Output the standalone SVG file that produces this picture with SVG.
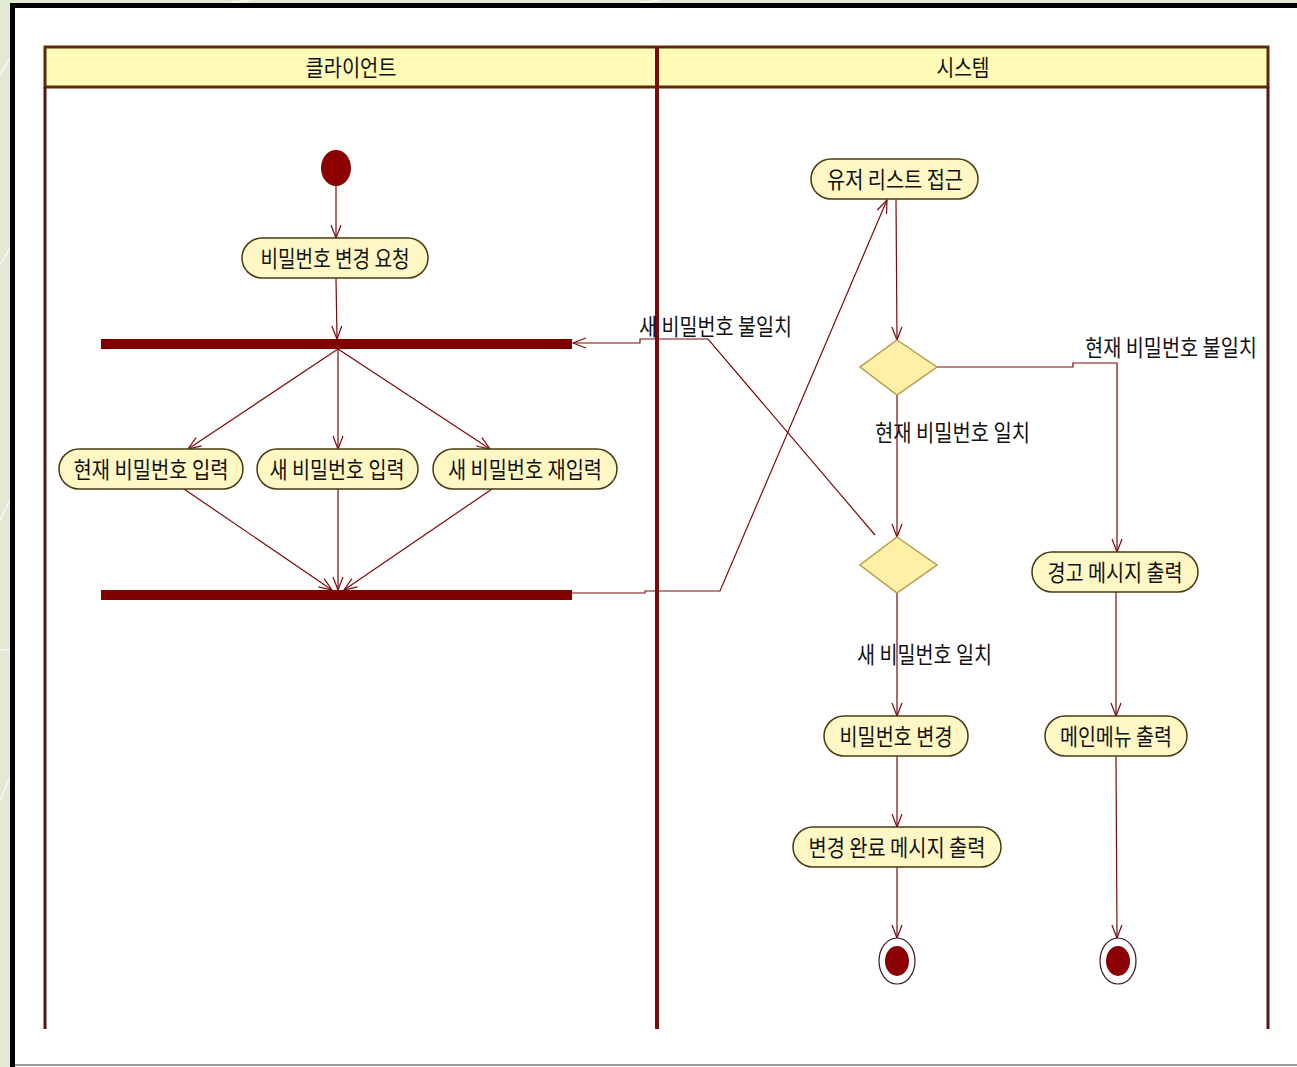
<svg xmlns="http://www.w3.org/2000/svg" width="1297" height="1067" viewBox="0 0 1297 1067">
<style>
  text { font-family: "Noto Sans CJK KR", "Noto Sans", sans-serif; font-size: 23px; fill: #111; }
  .act { fill: #fff8c4; stroke: #4a3a10; stroke-width: 1.5; }
  .dec { fill: #fff0a6; stroke: #b89a50; stroke-width: 1.5; }
  .bar { fill: #800000; }
  .edge { fill: none; stroke: #7a0a0a; stroke-width: 1.2; }
  .lane { fill: none; stroke: #5a1414; stroke-width: 3; }
</style>
<defs>
  <marker id="arr" markerUnits="userSpaceOnUse" markerWidth="16" markerHeight="14" viewBox="-14 -7 16 14" refX="0" refY="0" orient="auto">
    <path d="M-13,-5 L0,0 L-13,5" fill="none" stroke="#7a0a0a" stroke-width="1.2"/>
  </marker>
</defs>
<!-- background -->
<rect x="0" y="0" width="1297" height="1067" fill="#e2eAd3"/>
<g stroke="#ffffff" stroke-width="1.5" opacity="0.8">
  <line x1="0" y1="75" x2="10" y2="58"/>
  <line x1="0" y1="265" x2="10" y2="248"/>
  <line x1="0" y1="520" x2="10" y2="500"/>
  <line x1="0" y1="650" x2="10" y2="650"/>
  <line x1="0" y1="800" x2="10" y2="778"/>
  <line x1="230" y1="3" x2="250" y2="0"/>
  <line x1="640" y1="3" x2="660" y2="0"/>
</g>
<rect x="10" y="3" width="1287" height="1064" fill="#000"/>
<rect x="15" y="8" width="1282" height="1059" fill="#ffffff"/>
<line x1="15" y1="1065" x2="1297" y2="1065" stroke="#999" stroke-width="2"/>

<!-- swimlanes -->
<g id="lanes">
  <rect x="45" y="47" width="1223" height="40" fill="#fffcb8" stroke="#5a2a0a" stroke-width="3"/>
  <line class="lane" x1="45" y1="87" x2="45" y2="1029"/>
  <line class="lane" x1="1268" y1="87" x2="1268" y2="1029"/>
  <line x1="657" y1="47" x2="657" y2="1029" stroke="#7a0a0a" stroke-width="4"/>
  <text x="351" y="76" text-anchor="middle" textLength="91" lengthAdjust="spacingAndGlyphs">클라이언트</text>
  <text x="963" y="76" text-anchor="middle" textLength="53" lengthAdjust="spacingAndGlyphs">시스템</text>
</g>

<!-- connectors -->
<g id="connectors">
  <line class="edge" x1="336" y1="186" x2="336" y2="238" marker-end="url(#arr)"/>
  <line class="edge" x1="336" y1="278" x2="337" y2="339" marker-end="url(#arr)"/>
  <line class="edge" x1="338" y1="349" x2="188" y2="449" marker-end="url(#arr)"/>
  <line class="edge" x1="338" y1="349" x2="338" y2="449" marker-end="url(#arr)"/>
  <line class="edge" x1="338" y1="349" x2="490" y2="449" marker-end="url(#arr)"/>
  <line class="edge" x1="184" y1="489" x2="332" y2="590" marker-end="url(#arr)"/>
  <line class="edge" x1="338" y1="489" x2="338" y2="590" marker-end="url(#arr)"/>
  <line class="edge" x1="492" y1="489" x2="344" y2="590" marker-end="url(#arr)"/>
  <polyline class="edge" points="572,593 645,593 645,591 720,591 887,200" marker-end="url(#arr)"/>
  <line class="edge" x1="896" y1="199" x2="897" y2="340" marker-end="url(#arr)"/>
  <polyline class="edge" points="937,367 1073,367 1073,363 1117,363 1117,552" marker-end="url(#arr)"/>
  <line class="edge" x1="897" y1="395" x2="897" y2="537" marker-end="url(#arr)"/>
  <polyline class="edge" points="875,535 708,339 640,339 640,343 573,343" marker-end="url(#arr)"/>
  <line class="edge" x1="897" y1="593" x2="897" y2="716" marker-end="url(#arr)"/>
  <line class="edge" x1="897" y1="756" x2="897" y2="827" marker-end="url(#arr)"/>
  <line class="edge" x1="897" y1="867" x2="897" y2="938" marker-end="url(#arr)"/>
  <line class="edge" x1="1116" y1="592" x2="1116" y2="716" marker-end="url(#arr)"/>
  <line class="edge" x1="1116" y1="756" x2="1117" y2="938" marker-end="url(#arr)"/>
  <text x="639" y="335" textLength="153" lengthAdjust="spacingAndGlyphs">새 비밀번호 불일치</text>
  <text x="1085" y="356" textLength="172" lengthAdjust="spacingAndGlyphs">현재 비밀번호 불일치</text>
  <text x="875" y="441" textLength="155" lengthAdjust="spacingAndGlyphs">현재 비밀번호 일치</text>
  <text x="857" y="663" textLength="135" lengthAdjust="spacingAndGlyphs">새 비밀번호 일치</text>
</g>

<!-- nodes -->
<g id="start"><ellipse cx="336" cy="168" rx="15" ry="18" fill="#8b0000"/></g>
<g id="req">
  <rect class="act" x="242" y="238" width="186" height="40" rx="20"/>
  <text x="335" y="267" text-anchor="middle" textLength="149" lengthAdjust="spacingAndGlyphs">비밀번호 변경 요청</text>
</g>
<g id="fork"><rect class="bar" x="101" y="339" width="471" height="10"/></g>
<g id="cur">
  <rect class="act" x="59" y="449" width="184" height="40" rx="20"/>
  <text x="151" y="478" text-anchor="middle" textLength="155" lengthAdjust="spacingAndGlyphs">현재 비밀번호 입력</text>
</g>
<g id="new">
  <rect class="act" x="257" y="449" width="161" height="40" rx="20"/>
  <text x="337" y="478" text-anchor="middle" textLength="135" lengthAdjust="spacingAndGlyphs">새 비밀번호 입력</text>
</g>
<g id="renew">
  <rect class="act" x="433" y="449" width="184" height="40" rx="20"/>
  <text x="525" y="478" text-anchor="middle" textLength="154" lengthAdjust="spacingAndGlyphs">새 비밀번호 재입력</text>
</g>
<g id="join"><rect class="bar" x="101" y="590" width="471" height="10"/></g>
<g id="userlist">
  <rect class="act" x="811" y="159" width="167" height="40" rx="20"/>
  <text x="895" y="188" text-anchor="middle" textLength="136" lengthAdjust="spacingAndGlyphs">유저 리스트 접근</text>
</g>
<g id="dec1"><polygon class="dec" points="897,340 937,367 897,395 860,367"/></g>
<g id="dec2"><polygon class="dec" points="897,537 937,565 897,593 860,565"/></g>
<g id="warn">
  <rect class="act" x="1032" y="552" width="166" height="40" rx="20"/>
  <text x="1115" y="581" text-anchor="middle" textLength="135" lengthAdjust="spacingAndGlyphs">경고 메시지 출력</text>
</g>
<g id="change">
  <rect class="act" x="824" y="716" width="144" height="40" rx="20"/>
  <text x="896" y="745" text-anchor="middle" textLength="113" lengthAdjust="spacingAndGlyphs">비밀번호 변경</text>
</g>
<g id="menu">
  <rect class="act" x="1045" y="716" width="142" height="40" rx="20"/>
  <text x="1116" y="745" text-anchor="middle" textLength="112" lengthAdjust="spacingAndGlyphs">메인메뉴 출력</text>
</g>
<g id="done">
  <rect class="act" x="793" y="827" width="208" height="40" rx="20"/>
  <text x="897" y="856" text-anchor="middle" textLength="177" lengthAdjust="spacingAndGlyphs">변경 완료 메시지 출력</text>
</g>
<g id="end1">
  <ellipse cx="897" cy="961" rx="18" ry="23" fill="#fff" stroke="#3a1a1a" stroke-width="1.2"/>
  <ellipse cx="897" cy="961" rx="12" ry="15" fill="#8b0000"/>
</g>
<g id="end2">
  <ellipse cx="1118" cy="961" rx="18" ry="23" fill="#fff" stroke="#3a1a1a" stroke-width="1.2"/>
  <ellipse cx="1118" cy="961" rx="12" ry="15" fill="#8b0000"/>
</g>
</svg>
